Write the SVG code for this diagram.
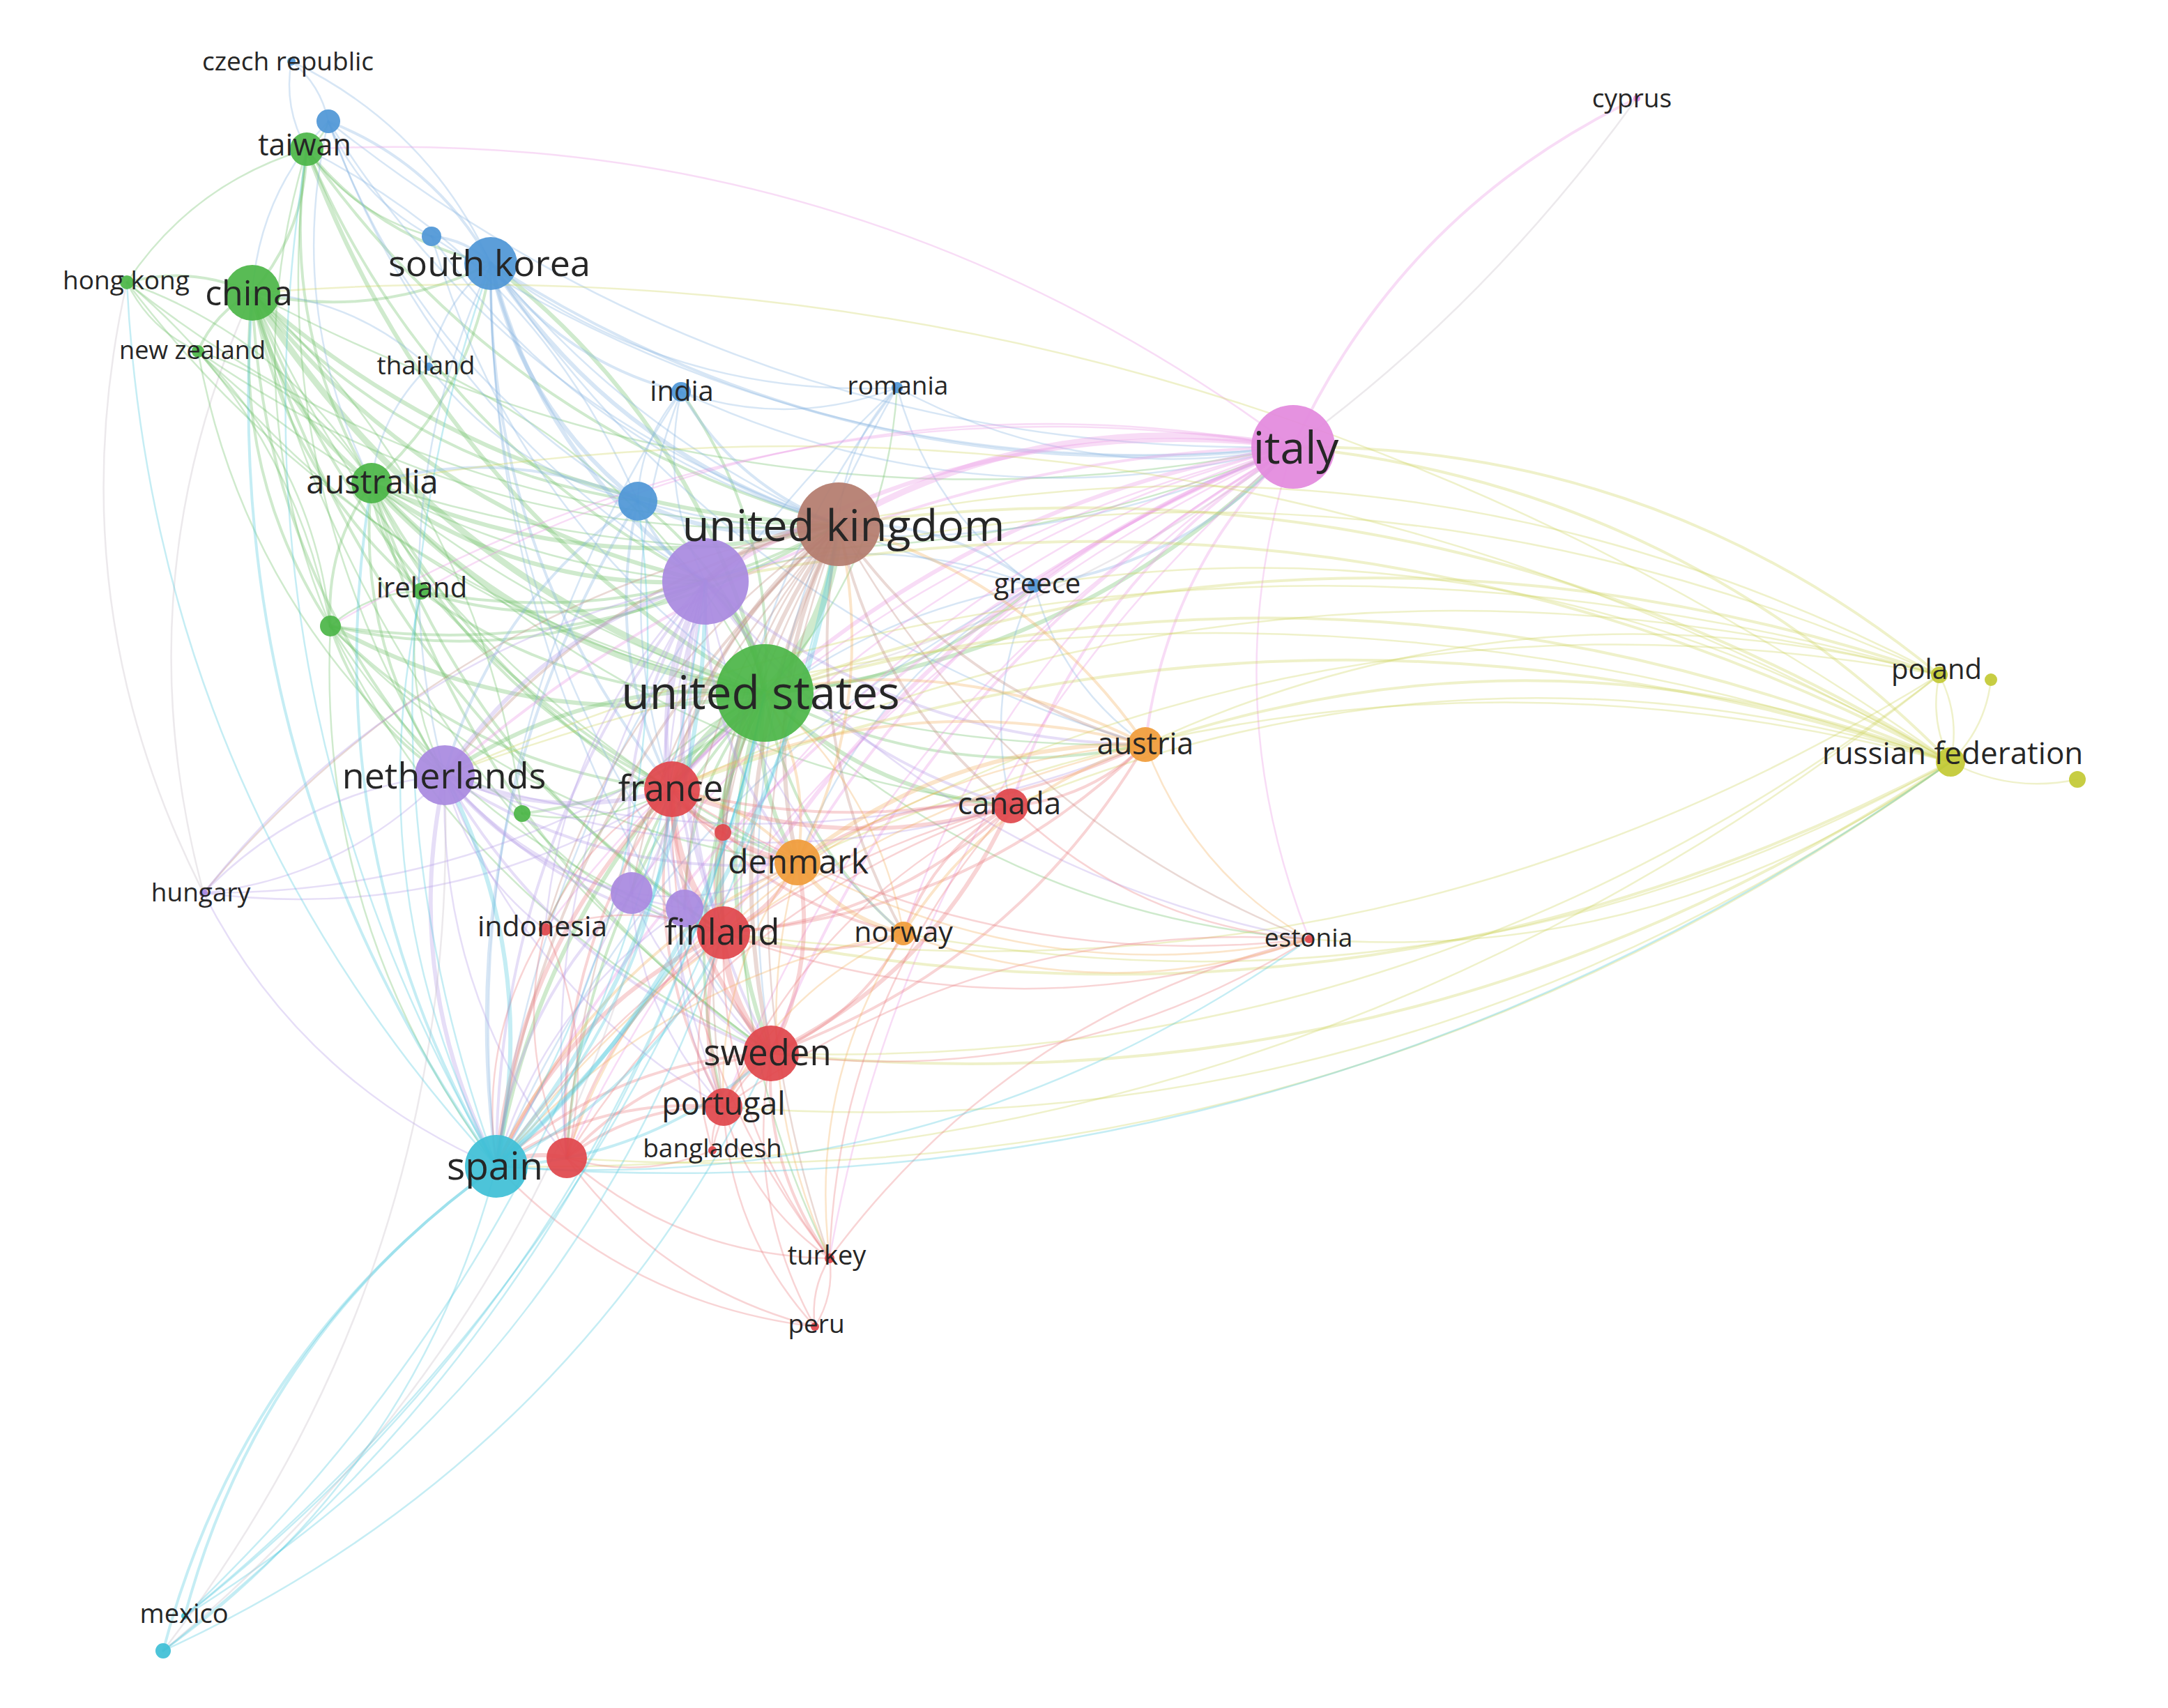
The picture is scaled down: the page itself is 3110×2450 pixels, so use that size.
<svg xmlns="http://www.w3.org/2000/svg" xmlns:xlink="http://www.w3.org/1999/xlink" width="3110" height="2450" viewBox="0 0 3110 2450">
<style>
#edges{stroke-opacity:.33;stroke-linecap:round}
.g{stroke:#6cc066}.b{stroke:#86b3e0}.k{stroke:#eb95e5}.y{stroke:#cfd45e}.n{stroke:#c08c80}.p{stroke:#b39ae6}.r{stroke:#ea7c7e}.o{stroke:#f3b05e}.c{stroke:#4fc8de}.x{stroke:#c6bcc6}
.w1{stroke-width:2.5}.w2{stroke-width:4}.w3{stroke-width:6}.w4{stroke-width:9}.w5{stroke-width:13}
text{font-family:"Open Sans","Noto Sans","DejaVu Sans",sans-serif;fill:#262626;text-anchor:middle}
.R{fill:#e0474c}.G{fill:#4cb648}.B{fill:#5097d6}.P{fill:#a98ae0}.N{fill:#b47c6e}.K{fill:#e38ade}.Y{fill:#c3c935}.O{fill:#f09c3a}.C{fill:#3fc0d6}
circle{fill-opacity:.93}
</style>
<defs>
<path id="u" d="M0 0Q.5 .18 1 0" fill="none" vector-effect="non-scaling-stroke"/>
</defs>
<rect width="3110" height="2450" fill="#ffffff"/>
<g id="edges">
<use href="#u" class="g w2" transform="matrix(78 -206 206 78 362 420)"/>
<use href="#u" class="g w2" transform="matrix(-180 -15 15 -180 362 420)"/>
<use href="#u" class="g w2" transform="matrix(-78 84 -84 -78 362 420)"/>
<use href="#u" class="g w3" transform="matrix(171 273 -273 171 362 420)"/>
<use href="#u" class="g w4" transform="matrix(735 574 -574 735 362 420)"/>
<use href="#u" class="g w3" transform="matrix(841 332 -332 841 362 420)"/>
<use href="#u" class="g w3" transform="matrix(650 414 -414 650 362 420)"/>
<use href="#u" class="g w2" transform="matrix(112 478 -478 112 362 420)"/>
<use href="#u" class="g w2" transform="matrix(242 428 -428 242 362 420)"/>
<use href="#u" class="g w2" transform="matrix(276 692 -692 276 362 420)"/>
<use href="#u" class="g w2" transform="matrix(602 712 -712 602 362 420)"/>
<use href="#u" class="g w2" transform="matrix(676 918 -918 676 362 420)"/>
<use href="#u" class="g w1" transform="matrix(744 1091 -1091 744 362 420)"/>
<use href="#u" class="g w2" transform="matrix(553 299 -299 553 362 420)"/>
<use href="#u" class="g w2" transform="matrix(342 -42 42 342 362 420)"/>
<use href="#u" class="g w1" transform="matrix(782 817 -817 782 362 420)"/>
<use href="#u" class="g w1" transform="matrix(1493 221 -221 1493 362 420)"/>
<use href="#u" class="x w1" transform="matrix(-70 861 -861 -70 362 420)"/>
<use href="#u" class="g w2" transform="matrix(93 479 -479 93 440 214)"/>
<use href="#u" class="g w3" transform="matrix(657 780 -780 657 440 214)"/>
<use href="#u" class="g w2" transform="matrix(264 164 -164 264 440 214)"/>
<use href="#u" class="g w1" transform="matrix(31 -40 40 31 440 214)"/>
<use href="#u" class="g w1" transform="matrix(179 125 -125 179 440 214)"/>
<use href="#u" class="g w2" transform="matrix(763 538 -538 763 440 214)"/>
<use href="#u" class="g w2" transform="matrix(572 620 -620 572 440 214)"/>
<use href="#u" class="g w1" transform="matrix(34 684 -684 34 440 214)"/>
<use href="#u" class="g w1" transform="matrix(198 898 -898 198 440 214)"/>
<use href="#u" class="g w1" transform="matrix(-258 191 -191 -258 440 214)"/>
<use href="#u" class="g w4" transform="matrix(564 301 -301 564 533 693)"/>
<use href="#u" class="g w3" transform="matrix(670 59 -59 670 533 693)"/>
<use href="#u" class="g w3" transform="matrix(479 141 -141 479 533 693)"/>
<use href="#u" class="g w2" transform="matrix(105 419 -419 105 533 693)"/>
<use href="#u" class="g w2" transform="matrix(-59 205 -205 -59 533 693)"/>
<use href="#u" class="g w2" transform="matrix(71 155 -155 71 533 693)"/>
<use href="#u" class="g w2" transform="matrix(431 439 -439 431 533 693)"/>
<use href="#u" class="g w2" transform="matrix(573 818 -818 573 533 693)"/>
<use href="#u" class="g w2" transform="matrix(505 645 -645 505 533 693)"/>
<use href="#u" class="g w2" transform="matrix(611 544 -544 611 533 693)"/>
<use href="#u" class="g w1" transform="matrix(-351 -288 288 -351 533 693)"/>
<use href="#u" class="g w1" transform="matrix(-249 -189 189 -249 533 693)"/>
<use href="#u" class="g w1" transform="matrix(1322 -52 52 1322 533 693)"/>
<use href="#u" class="g w1" transform="matrix(1110 375 -375 1110 533 693)"/>
<use href="#u" class="g w1" transform="matrix(917 463 -463 917 533 693)"/>
<use href="#u" class="g w2" transform="matrix(171 -315 315 171 533 693)"/>
<use href="#u" class="g w2" transform="matrix(493 146 -146 493 604 848)"/>
<use href="#u" class="g w2" transform="matrix(599 -96 96 599 604 848)"/>
<use href="#u" class="g w2" transform="matrix(408 -14 14 408 604 848)"/>
<use href="#u" class="g w1" transform="matrix(34 264 -264 34 604 848)"/>
<use href="#u" class="g w1" transform="matrix(-130 50 -50 -130 604 848)"/>
<use href="#u" class="g w3" transform="matrix(623 96 -96 623 474 898)"/>
<use href="#u" class="g w2" transform="matrix(164 214 -214 164 474 898)"/>
<use href="#u" class="g w2" transform="matrix(538 -64 64 538 474 898)"/>
<use href="#u" class="g w2" transform="matrix(729 -146 146 729 474 898)"/>
<use href="#u" class="g w2" transform="matrix(490 234 -234 490 474 898)"/>
<use href="#u" class="g w1" transform="matrix(670 339 -339 670 474 898)"/>
<use href="#u" class="g w1" transform="matrix(564 440 -440 564 474 898)"/>
<use href="#u" class="g w1" transform="matrix(632 613 -613 632 474 898)"/>
<use href="#u" class="g w1" transform="matrix(238 775 -775 238 474 898)"/>
<use href="#u" class="g w1" transform="matrix(-190 -394 394 -190 474 898)"/>
<use href="#u" class="g w1" transform="matrix(-292 -493 493 -292 474 898)"/>
<use href="#u" class="g w1" transform="matrix(915 589 -589 915 182 405)"/>
<use href="#u" class="g w1" transform="matrix(1021 347 -347 1021 182 405)"/>
<use href="#u" class="g w1" transform="matrix(102 99 -99 102 182 405)"/>
<use href="#u" class="x w1" transform="matrix(110 876 -876 110 182 405)"/>
<use href="#u" class="g w1" transform="matrix(813 490 -490 813 284 504)"/>
<use href="#u" class="g w1" transform="matrix(919 248 -248 919 284 504)"/>
<use href="#u" class="g w1" transform="matrix(728 330 -330 728 284 504)"/>
<use href="#u" class="g w1" transform="matrix(354 608 -608 354 284 504)"/>
<use href="#u" class="g w1" transform="matrix(-111 -55 55 -111 749 1167)"/>
<use href="#u" class="g w2" transform="matrix(348 -173 173 348 749 1167)"/>
<use href="#u" class="g w1" transform="matrix(215 -35 35 215 749 1167)"/>
<use href="#u" class="g w1" transform="matrix(289 171 -171 289 749 1167)"/>
<use href="#u" class="g w1" transform="matrix(-387 -747 747 -387 749 1167)"/>
<use href="#u" class="g w5" transform="matrix(106 -242 242 106 1097 994)"/>
<use href="#u" class="g w4" transform="matrix(-85 -160 160 -85 1097 994)"/>
<use href="#u" class="g w4" transform="matrix(-133 138 -138 -133 1097 994)"/>
<use href="#u" class="g w4" transform="matrix(-59 344 -344 -59 1097 994)"/>
<use href="#u" class="g w3" transform="matrix(9 517 -517 9 1097 994)"/>
<use href="#u" class="g w3" transform="matrix(47 243 -243 47 1097 994)"/>
<use href="#u" class="g w3" transform="matrix(758 -353 353 758 1097 994)"/>
<use href="#u" class="g w3" transform="matrix(353 162 -162 353 1097 994)"/>
<use href="#u" class="g w2" transform="matrix(546 74 -74 546 1097 994)"/>
<use href="#u" class="g w3" transform="matrix(-459 118 -118 -459 1097 994)"/>
<use href="#u" class="g w3" transform="matrix(-385 679 -679 -385 1097 994)"/>
<use href="#u" class="g w2" transform="matrix(-59 594 -594 -59 1097 994)"/>
<use href="#u" class="g w2" transform="matrix(-284 667 -667 -284 1097 994)"/>
<use href="#u" class="g w2" transform="matrix(199 345 -345 199 1097 994)"/>
<use href="#u" class="g w2" transform="matrix(387 -154 154 387 1097 994)"/>
<use href="#u" class="g w3" transform="matrix(-393 -616 616 -393 1097 994)"/>
<use href="#u" class="g w2" transform="matrix(-182 -275 275 -182 1097 994)"/>
<use href="#u" class="g w2" transform="matrix(-120 -432 432 -120 1097 994)"/>
<use href="#u" class="g w2" transform="matrix(-191 287 -287 -191 1097 994)"/>
<use href="#u" class="g w2" transform="matrix(-115 309 -309 -115 1097 994)"/>
<use href="#u" class="g w1" transform="matrix(-60 200 -200 -60 1097 994)"/>
<use href="#u" class="x w1" transform="matrix(1251 -853 853 1251 1097 994)"/>
<use href="#u" class="g w1" transform="matrix(781 353 -353 781 1097 994)"/>
<use href="#u" class="g w1" transform="matrix(93 811 -811 93 1097 994)"/>
<use href="#u" class="g w1" transform="matrix(-315 339 -339 -315 1097 994)"/>
<use href="#u" class="g w1" transform="matrix(190 -438 438 190 1097 994)"/>
<use href="#u" class="g w1" transform="matrix(-482 -468 468 -482 1097 994)"/>
<use href="#u" class="b w2" transform="matrix(-233 -204 204 -233 704 378)"/>
<use href="#u" class="b w2" transform="matrix(-85 -39 39 -85 704 378)"/>
<use href="#u" class="b w2" transform="matrix(273 184 -184 273 704 378)"/>
<use href="#u" class="b w1" transform="matrix(-89 148 -148 -89 704 378)"/>
<use href="#u" class="b w3" transform="matrix(211 341 -341 211 704 378)"/>
<use href="#u" class="b w3" transform="matrix(499 374 -374 499 704 378)"/>
<use href="#u" class="b w3" transform="matrix(308 456 -456 308 704 378)"/>
<use href="#u" class="b w2" transform="matrix(1151 263 -263 1151 704 378)"/>
<use href="#u" class="b w1" transform="matrix(780 462 -462 780 704 378)"/>
<use href="#u" class="b w2" transform="matrix(260 754 -754 260 704 378)"/>
<use href="#u" class="b w1" transform="matrix(334 960 -960 334 704 378)"/>
<use href="#u" class="b w1" transform="matrix(-66 734 -734 -66 704 378)"/>
<use href="#u" class="b w1" transform="matrix(583 178 -178 583 704 378)"/>
<use href="#u" class="b w1" transform="matrix(939 690 -690 939 704 378)"/>
<use href="#u" class="b w1" transform="matrix(402 1133 -1133 402 704 378)"/>
<use href="#u" class="b w1" transform="matrix(-286 -290 290 -286 704 378)"/>
<use href="#u" class="b w1" transform="matrix(-53 -86 86 -53 471 174)"/>
<use href="#u" class="b w1" transform="matrix(148 165 -165 148 471 174)"/>
<use href="#u" class="b w1" transform="matrix(-109 246 -246 -109 471 174)"/>
<use href="#u" class="b w1" transform="matrix(732 578 -578 732 471 174)"/>
<use href="#u" class="b w1" transform="matrix(541 660 -660 541 471 174)"/>
<use href="#u" class="b w1" transform="matrix(444 545 -545 444 471 174)"/>
<use href="#u" class="b w1" transform="matrix(1384 467 -467 1384 471 174)"/>
<use href="#u" class="b w1" transform="matrix(62 519 -519 62 471 174)"/>
<use href="#u" class="b w1" transform="matrix(22 126 -126 22 418 88)"/>
<use href="#u" class="b w1" transform="matrix(584 413 -413 584 619 339)"/>
<use href="#u" class="b w1" transform="matrix(1236 302 -302 1236 619 339)"/>
<use href="#u" class="b w1" transform="matrix(478 655 -655 478 619 339)"/>
<use href="#u" class="b w1" transform="matrix(-62 157 -157 -62 977 562)"/>
<use href="#u" class="b w2" transform="matrix(226 190 -190 226 977 562)"/>
<use href="#u" class="b w1" transform="matrix(35 272 -272 35 977 562)"/>
<use href="#u" class="b w1" transform="matrix(-13 570 -570 -13 977 562)"/>
<use href="#u" class="b w1" transform="matrix(878 79 -79 878 977 562)"/>
<use href="#u" class="b w1" transform="matrix(310 -6 6 310 977 562)"/>
<use href="#u" class="b w1" transform="matrix(-265 1111 -1111 -265 977 562)"/>
<use href="#u" class="b w1" transform="matrix(-84 196 -196 -84 1287 556)"/>
<use href="#u" class="b w1" transform="matrix(568 85 -85 568 1287 556)"/>
<use href="#u" class="b w1" transform="matrix(197 284 -284 197 1287 556)"/>
<use href="#u" class="b w1" transform="matrix(-181 955 -955 -181 1287 556)"/>
<use href="#u" class="b w1" transform="matrix(-249 782 -782 -249 1287 556)"/>
<use href="#u" class="b w1" transform="matrix(-575 1117 -1117 -575 1287 556)"/>
<use href="#u" class="b w3" transform="matrix(288 33 -33 288 915 719)"/>
<use href="#u" class="b w2" transform="matrix(97 115 -115 97 915 719)"/>
<use href="#u" class="b w2" transform="matrix(-277 393 -393 -277 915 719)"/>
<use href="#u" class="b w2" transform="matrix(49 413 -413 49 915 719)"/>
<use href="#u" class="b w2" transform="matrix(-203 954 -954 -203 915 719)"/>
<use href="#u" class="b w2" transform="matrix(-382 -26 26 -382 915 719)"/>
<use href="#u" class="b w1" transform="matrix(-475 -505 505 -475 915 719)"/>
<use href="#u" class="b w1" transform="matrix(940 -78 78 940 915 719)"/>
<use href="#u" class="b w2" transform="matrix(-281 -88 88 -281 1484 840)"/>
<use href="#u" class="b w2" transform="matrix(371 -199 199 371 1484 840)"/>
<use href="#u" class="b w1" transform="matrix(-472 -6 6 -472 1484 840)"/>
<use href="#u" class="b w1" transform="matrix(159 228 -228 159 1484 840)"/>
<use href="#u" class="b w1" transform="matrix(-34 316 -316 -34 1484 840)"/>
<use href="#u" class="b w1" transform="matrix(-520 292 -292 -520 1484 840)"/>
<use href="#u" class="b w1" transform="matrix(-772 833 -833 -772 1484 840)"/>
<use href="#u" class="b w1" transform="matrix(-340 397 -397 -340 1484 840)"/>
<use href="#u" class="b w1" transform="matrix(300 193 -193 300 615 526)"/>
<use href="#u" class="b w1" transform="matrix(-253 -106 106 -253 615 526)"/>
<use href="#u" class="b w1" transform="matrix(-82 167 -167 -82 615 526)"/>
<use href="#u" class="k w2" transform="matrix(-493 500 -500 -493 2348 141)"/>
<use href="#u" class="k w4" transform="matrix(-652 111 -111 -652 1855 641)"/>
<use href="#u" class="k w3" transform="matrix(-843 193 -193 -843 1855 641)"/>
<use href="#u" class="k w3" transform="matrix(-891 491 -491 -891 1855 641)"/>
<use href="#u" class="k w2" transform="matrix(-1143 1032 -1032 -1143 1855 641)"/>
<use href="#u" class="k w3" transform="matrix(-817 697 -697 -817 1855 641)"/>
<use href="#u" class="k w2" transform="matrix(-749 870 -870 -749 1855 641)"/>
<use href="#u" class="k w2" transform="matrix(-711 596 -596 -711 1855 641)"/>
<use href="#u" class="k w2" transform="matrix(-405 515 -515 -405 1855 641)"/>
<use href="#u" class="k w2" transform="matrix(-1217 471 -471 -1217 1855 641)"/>
<use href="#u" class="k w2" transform="matrix(-212 427 -427 -212 1855 641)"/>
<use href="#u" class="k w1" transform="matrix(-817 947 -947 -817 1855 641)"/>
<use href="#u" class="k w1" transform="matrix(-1042 1020 -1020 -1042 1855 641)"/>
<use href="#u" class="k w1" transform="matrix(-559 698 -698 -559 1855 641)"/>
<use href="#u" class="k w1" transform="matrix(23 706 -706 23 1855 641)"/>
<use href="#u" class="k w1" transform="matrix(-665 1164 -1164 -665 1855 641)"/>
<use href="#u" class="k w1" transform="matrix(-949 640 -640 -949 1855 641)"/>
<use href="#u" class="k w1" transform="matrix(-873 662 -662 -873 1855 641)"/>
<use href="#u" class="k w1" transform="matrix(-1073 692 -692 -1073 1855 641)"/>
<use href="#u" class="k w1" transform="matrix(-1251 207 -207 -1251 1855 641)"/>
<use href="#u" class="k w1" transform="matrix(-1381 257 -257 -1381 1855 641)"/>
<use href="#u" class="k w1" transform="matrix(-1415 -427 427 -1415 1855 641)"/>
<use href="#u" class="y w2" transform="matrix(-943 -452 452 -943 2798 1093)"/>
<use href="#u" class="y w1" transform="matrix(-16 -125 125 -16 2798 1093)"/>
<use href="#u" class="y w1" transform="matrix(58 -118 118 58 2798 1093)"/>
<use href="#u" class="y w1" transform="matrix(182 25 -25 182 2798 1093)"/>
<use href="#u" class="y w2" transform="matrix(-1701 -99 99 -1701 2798 1093)"/>
<use href="#u" class="y w2" transform="matrix(-1595 -341 341 -1595 2798 1093)"/>
<use href="#u" class="y w2" transform="matrix(-1786 -259 259 -1786 2798 1093)"/>
<use href="#u" class="y w2" transform="matrix(-1834 39 -39 -1834 2798 1093)"/>
<use href="#u" class="y w1" transform="matrix(-1654 144 -144 -1654 2798 1093)"/>
<use href="#u" class="y w2" transform="matrix(-1155 -25 25 -1155 2798 1093)"/>
<use href="#u" class="y w1" transform="matrix(-1348 63 -63 -1348 2798 1093)"/>
<use href="#u" class="y w1" transform="matrix(-2160 19 -19 -2160 2798 1093)"/>
<use href="#u" class="y w1" transform="matrix(-2265 -400 400 -2265 2798 1093)"/>
<use href="#u" class="y w1" transform="matrix(-1314 -253 253 -1314 2798 1093)"/>
<use href="#u" class="y w1" transform="matrix(-2436 -673 673 -2436 2798 1093)"/>
<use href="#u" class="y w2" transform="matrix(-927 -327 327 -927 2782 968)"/>
<use href="#u" class="y w1" transform="matrix(16 125 -125 16 2782 968)"/>
<use href="#u" class="y w2" transform="matrix(-1685 26 -26 -1685 2782 968)"/>
<use href="#u" class="y w1" transform="matrix(-1579 -216 216 -1579 2782 968)"/>
<use href="#u" class="y w1" transform="matrix(-1770 -134 134 -1770 2782 968)"/>
<use href="#u" class="y w1" transform="matrix(-1818 164 -164 -1818 2782 968)"/>
<use href="#u" class="y w1" transform="matrix(-1139 100 -100 -1139 2782 968)"/>
<use href="#u" class="y w1" transform="matrix(-2144 144 -144 -2144 2782 968)"/>
<use href="#u" class="y w1" transform="matrix(-1638 269 -269 -1638 2782 968)"/>
<use href="#u" class="y w2" transform="matrix(1692 -418 418 1692 1106 1511)"/>
<use href="#u" class="y w2" transform="matrix(1760 -245 245 1760 1038 1338)"/>
<use href="#u" class="y w1" transform="matrix(1502 -246 246 1502 1296 1339)"/>
<use href="#u" class="y w1" transform="matrix(920 -254 254 920 1878 1347)"/>
<use href="#u" class="y w1" transform="matrix(1760 -495 495 1760 1038 1588)"/>
<use href="#u" class="y w1" transform="matrix(1985 -568 568 1985 813 1661)"/>
<use href="#u" class="y w1" transform="matrix(1744 -370 370 1744 1038 1338)"/>
<use href="#u" class="y w1" transform="matrix(2070 -705 705 2070 712 1673)"/>
<use href="#u" class="y w1" transform="matrix(1676 -543 543 1676 1106 1511)"/>
<use href="#u" class="n w4" transform="matrix(-191 82 -82 -191 1203 752)"/>
<use href="#u" class="n w3" transform="matrix(-239 380 -380 -239 1203 752)"/>
<use href="#u" class="n w3" transform="matrix(-165 586 -586 -165 1203 752)"/>
<use href="#u" class="n w3" transform="matrix(-97 759 -759 -97 1203 752)"/>
<use href="#u" class="n w3" transform="matrix(-59 485 -485 -59 1203 752)"/>
<use href="#u" class="n w2" transform="matrix(-491 921 -921 -491 1203 752)"/>
<use href="#u" class="n w2" transform="matrix(-565 360 -360 -565 1203 752)"/>
<use href="#u" class="n w2" transform="matrix(440 316 -316 440 1203 752)"/>
<use href="#u" class="n w2" transform="matrix(247 404 -404 247 1203 752)"/>
<use href="#u" class="n w2" transform="matrix(93 587 -587 93 1203 752)"/>
<use href="#u" class="n w1" transform="matrix(675 595 -595 675 1203 752)"/>
<use href="#u" class="n w1" transform="matrix(-165 836 -836 -165 1203 752)"/>
<use href="#u" class="n w1" transform="matrix(-390 909 -909 -390 1203 752)"/>
<use href="#u" class="n w1" transform="matrix(-13 1053 -1053 -13 1203 752)"/>
<use href="#u" class="n w1" transform="matrix(-297 529 -529 -297 1203 752)"/>
<use href="#u" class="n w1" transform="matrix(-221 551 -551 -221 1203 752)"/>
<use href="#u" class="n w1" transform="matrix(-421 581 -581 -421 1203 752)"/>
<use href="#u" class="n w1" transform="matrix(-911 529 -529 -911 1203 752)"/>
<use href="#u" class="n w1" transform="matrix(-166 442 -442 -166 1203 752)"/>
<use href="#u" class="p w3" transform="matrix(-374 278 -278 -374 1012 834)"/>
<use href="#u" class="p w3" transform="matrix(-48 298 -298 -48 1012 834)"/>
<use href="#u" class="p w3" transform="matrix(26 504 -504 26 1012 834)"/>
<use href="#u" class="p w2" transform="matrix(94 677 -677 94 1012 834)"/>
<use href="#u" class="p w2" transform="matrix(132 403 -403 132 1012 834)"/>
<use href="#u" class="p w2" transform="matrix(-300 839 -839 -300 1012 834)"/>
<use href="#u" class="p w2" transform="matrix(-106 447 -447 -106 1012 834)"/>
<use href="#u" class="p w2" transform="matrix(-30 469 -469 -30 1012 834)"/>
<use href="#u" class="p w2" transform="matrix(631 234 -234 631 1012 834)"/>
<use href="#u" class="p w2" transform="matrix(438 322 -322 438 1012 834)"/>
<use href="#u" class="p w1" transform="matrix(284 505 -505 284 1012 834)"/>
<use href="#u" class="p w1" transform="matrix(-230 499 -499 -230 1012 834)"/>
<use href="#u" class="p w1" transform="matrix(-720 447 -447 -720 1012 834)"/>
<use href="#u" class="p w1" transform="matrix(26 754 -754 26 1012 834)"/>
<use href="#u" class="p w1" transform="matrix(-199 827 -827 -199 1012 834)"/>
<use href="#u" class="p w1" transform="matrix(866 513 -513 866 1012 834)"/>
<use href="#u" class="p w1" transform="matrix(-346 169 -169 -346 638 1112)"/>
<use href="#u" class="p w3" transform="matrix(326 20 -20 326 638 1112)"/>
<use href="#u" class="p w2" transform="matrix(400 226 -226 400 638 1112)"/>
<use href="#u" class="p w2" transform="matrix(468 399 -399 468 638 1112)"/>
<use href="#u" class="p w2" transform="matrix(506 125 -125 506 638 1112)"/>
<use href="#u" class="p w3" transform="matrix(74 561 -561 74 638 1112)"/>
<use href="#u" class="p w2" transform="matrix(268 169 -169 268 638 1112)"/>
<use href="#u" class="p w1" transform="matrix(344 191 -191 344 638 1112)"/>
<use href="#u" class="p w1" transform="matrix(175 549 -549 175 638 1112)"/>
<use href="#u" class="p w1" transform="matrix(144 221 -221 144 638 1112)"/>
<use href="#u" class="p w1" transform="matrix(812 44 -44 812 638 1112)"/>
<use href="#u" class="p w1" transform="matrix(1005 -44 44 1005 638 1112)"/>
<use href="#u" class="p w1" transform="matrix(400 476 -476 400 638 1112)"/>
<use href="#u" class="p w1" transform="matrix(346 -169 169 346 292 1281)"/>
<use href="#u" class="p w1" transform="matrix(420 392 -392 420 292 1281)"/>
<use href="#u" class="p w1" transform="matrix(805 -287 287 805 292 1281)"/>
<use href="#u" class="p w1" transform="matrix(672 -149 149 672 292 1281)"/>
<use href="#u" class="p w2" transform="matrix(58 -149 149 58 906 1281)"/>
<use href="#u" class="p w2" transform="matrix(132 57 -57 132 906 1281)"/>
<use href="#u" class="p w1" transform="matrix(200 230 -230 200 906 1281)"/>
<use href="#u" class="p w2" transform="matrix(-194 392 -392 -194 906 1281)"/>
<use href="#u" class="p w1" transform="matrix(-93 380 -380 -93 906 1281)"/>
<use href="#u" class="p w1" transform="matrix(132 307 -307 132 906 1281)"/>
<use href="#u" class="p w1" transform="matrix(238 -44 44 238 906 1281)"/>
<use href="#u" class="p w2" transform="matrix(-18 -171 171 -18 982 1303)"/>
<use href="#u" class="p w1" transform="matrix(56 35 -35 56 982 1303)"/>
<use href="#u" class="p w1" transform="matrix(124 208 -208 124 982 1303)"/>
<use href="#u" class="p w1" transform="matrix(-270 370 -370 -270 982 1303)"/>
<use href="#u" class="p w1" transform="matrix(162 -66 66 162 982 1303)"/>
<use href="#u" class="p w1" transform="matrix(56 285 -285 56 982 1303)"/>
<use href="#u" class="r w4" transform="matrix(74 206 -206 74 964 1132)"/>
<use href="#u" class="r w3" transform="matrix(142 379 -379 142 964 1132)"/>
<use href="#u" class="r w3" transform="matrix(180 105 -105 180 964 1132)"/>
<use href="#u" class="r w3" transform="matrix(486 24 -24 486 964 1132)"/>
<use href="#u" class="r w3" transform="matrix(-252 541 -541 -252 964 1132)"/>
<use href="#u" class="r w2" transform="matrix(74 456 -456 74 964 1132)"/>
<use href="#u" class="r w2" transform="matrix(-151 529 -529 -151 964 1132)"/>
<use href="#u" class="r w2" transform="matrix(679 -64 64 679 964 1132)"/>
<use href="#u" class="r w2" transform="matrix(332 207 -207 332 964 1132)"/>
<use href="#u" class="r w1" transform="matrix(73 62 -62 73 964 1132)"/>
<use href="#u" class="r w1" transform="matrix(-182 201 -201 -182 964 1132)"/>
<use href="#u" class="r w1" transform="matrix(226 673 -673 226 964 1132)"/>
<use href="#u" class="r w1" transform="matrix(914 215 -215 914 964 1132)"/>
<use href="#u" class="r w4" transform="matrix(68 173 -173 68 1038 1338)"/>
<use href="#u" class="r w3" transform="matrix(0 250 -250 0 1038 1338)"/>
<use href="#u" class="r w3" transform="matrix(106 -101 101 106 1038 1338)"/>
<use href="#u" class="r w2" transform="matrix(258 1 -1 258 1038 1338)"/>
<use href="#u" class="r w2" transform="matrix(412 -182 182 412 1038 1338)"/>
<use href="#u" class="r w3" transform="matrix(-326 335 -335 -326 1038 1338)"/>
<use href="#u" class="r w2" transform="matrix(-225 323 -323 -225 1038 1338)"/>
<use href="#u" class="r w1" transform="matrix(152 467 -467 152 1038 1338)"/>
<use href="#u" class="r w1" transform="matrix(840 9 -9 840 1038 1338)"/>
<use href="#u" class="r w2" transform="matrix(605 -270 270 605 1038 1338)"/>
<use href="#u" class="r w1" transform="matrix(-256 -5 5 -256 1038 1338)"/>
<use href="#u" class="r w1" transform="matrix(-16 312 -312 -16 1038 1338)"/>
<use href="#u" class="r w3" transform="matrix(-68 77 -77 -68 1106 1511)"/>
<use href="#u" class="r w3" transform="matrix(38 -274 274 38 1106 1511)"/>
<use href="#u" class="r w2" transform="matrix(190 -172 172 190 1106 1511)"/>
<use href="#u" class="r w3" transform="matrix(344 -355 355 344 1106 1511)"/>
<use href="#u" class="r w2" transform="matrix(-394 162 -162 -394 1106 1511)"/>
<use href="#u" class="r w2" transform="matrix(-293 150 -150 -293 1106 1511)"/>
<use href="#u" class="r w2" transform="matrix(84 294 -294 84 1106 1511)"/>
<use href="#u" class="r w1" transform="matrix(63 392 -392 63 1106 1511)"/>
<use href="#u" class="r w2" transform="matrix(537 -443 443 537 1106 1511)"/>
<use href="#u" class="r w1" transform="matrix(772 -164 164 772 1106 1511)"/>
<use href="#u" class="r w1" transform="matrix(-84 139 -139 -84 1106 1511)"/>
<use href="#u" class="r w2" transform="matrix(-306 81 -81 -306 1450 1156)"/>
<use href="#u" class="r w2" transform="matrix(193 -88 88 193 1450 1156)"/>
<use href="#u" class="r w2" transform="matrix(-154 183 -183 -154 1450 1156)"/>
<use href="#u" class="r w1" transform="matrix(-738 517 -517 -738 1450 1156)"/>
<use href="#u" class="r w1" transform="matrix(-412 432 -432 -412 1450 1156)"/>
<use href="#u" class="r w1" transform="matrix(428 191 -191 428 1450 1156)"/>
<use href="#u" class="r w1" transform="matrix(-260 649 -649 -260 1450 1156)"/>
<use href="#u" class="r w1" transform="matrix(-637 505 -505 -637 1450 1156)"/>
<use href="#u" class="r w2" transform="matrix(-326 85 -85 -326 1038 1588)"/>
<use href="#u" class="r w2" transform="matrix(-225 73 -73 -225 1038 1588)"/>
<use href="#u" class="r w1" transform="matrix(-16 62 -62 -16 1038 1588)"/>
<use href="#u" class="r w1" transform="matrix(152 217 -217 152 1038 1588)"/>
<use href="#u" class="r w1" transform="matrix(131 315 -315 131 1038 1588)"/>
<use href="#u" class="r w3" transform="matrix(-101 12 -12 -101 813 1661)"/>
<use href="#u" class="r w1" transform="matrix(209 -11 11 209 813 1661)"/>
<use href="#u" class="r w1" transform="matrix(377 144 -144 377 813 1661)"/>
<use href="#u" class="r w1" transform="matrix(356 242 -242 356 813 1661)"/>
<use href="#u" class="r w1" transform="matrix(-31 -328 328 -31 813 1661)"/>
<use href="#u" class="r w1" transform="matrix(-21 98 -98 -21 1190 1805)"/>
<use href="#u" class="r w1" transform="matrix(21 -98 98 21 1169 1903)"/>
<use href="#u" class="r w1" transform="matrix(457 230 -230 457 712 1673)"/>
<use href="#u" class="r w1" transform="matrix(-688 458 -458 -688 1878 1347)"/>
<use href="#u" class="r w1" transform="matrix(-840 241 -241 -840 1878 1347)"/>
<use href="#u" class="r w1" transform="matrix(1 144 -144 1 1037 1194)"/>
<use href="#u" class="r w1" transform="matrix(107 43 -43 107 1037 1194)"/>
<use href="#u" class="r w1" transform="matrix(-70 340 -340 -70 782 1333)"/>
<use href="#u" class="r w1" transform="matrix(31 328 -328 31 782 1333)"/>
<use href="#u" class="o w3" transform="matrix(-499 169 -169 -499 1643 1068)"/>
<use href="#u" class="o w2" transform="matrix(-347 271 -271 -347 1643 1068)"/>
<use href="#u" class="o w1" transform="matrix(235 279 -279 235 1643 1068)"/>
<use href="#u" class="o w1" transform="matrix(-931 605 -605 -931 1643 1068)"/>
<use href="#u" class="o w2" transform="matrix(-546 -74 74 -546 1643 1068)"/>
<use href="#u" class="o w2" transform="matrix(-440 -316 316 -440 1643 1068)"/>
<use href="#u" class="o w2" transform="matrix(-679 64 -64 -679 1643 1068)"/>
<use href="#u" class="o w1" transform="matrix(-605 270 -270 -605 1643 1068)"/>
<use href="#u" class="o w3" transform="matrix(152 102 -102 152 1144 1237)"/>
<use href="#u" class="o w2" transform="matrix(-432 436 -436 -432 1144 1237)"/>
<use href="#u" class="o w1" transform="matrix(-106 351 -351 -106 1144 1237)"/>
<use href="#u" class="o w1" transform="matrix(-331 424 -424 -331 1144 1237)"/>
<use href="#u" class="o w1" transform="matrix(46 568 -568 46 1144 1237)"/>
<use href="#u" class="o w1" transform="matrix(734 110 -110 734 1144 1237)"/>
<use href="#u" class="o w2" transform="matrix(-47 -243 243 -47 1144 1237)"/>
<use href="#u" class="o w2" transform="matrix(59 -485 485 59 1144 1237)"/>
<use href="#u" class="o w2" transform="matrix(-180 -105 105 -180 1144 1237)"/>
<use href="#u" class="o w1" transform="matrix(582 8 -8 582 1296 1339)"/>
<use href="#u" class="o w1" transform="matrix(-584 334 -334 -584 1296 1339)"/>
<use href="#u" class="o w1" transform="matrix(-258 249 -249 -258 1296 1339)"/>
<use href="#u" class="o w1" transform="matrix(-106 466 -466 -106 1296 1339)"/>
<use href="#u" class="o w1" transform="matrix(-199 -345 345 -199 1296 1339)"/>
<use href="#u" class="c w2" transform="matrix(-447 645 -645 -447 712 1673)"/>
<use href="#u" class="c w2" transform="matrix(-478 695 -695 -478 712 1673)"/>
<use href="#u" class="c w1" transform="matrix(478 -695 695 478 234 2368)"/>
<use href="#u" class="c w1" transform="matrix(832 -1324 1324 832 265 2318)"/>
<use href="#u" class="c w1" transform="matrix(773 -980 980 773 265 2318)"/>
<use href="#u" class="c w1" transform="matrix(938 -1566 1566 938 265 2318)"/>
<use href="#u" class="c w1" transform="matrix(872 -857 857 872 234 2368)"/>
<use href="#u" class="x w1" transform="matrix(730 -1236 1236 730 234 2368)"/>
<use href="#u" class="c w1" transform="matrix(863 -1374 1374 863 234 2368)"/>
<use href="#u" class="x w1" transform="matrix(404 -1256 1256 404 234 2368)"/>
<use href="#u" class="c w1" transform="matrix(747 -1484 1484 747 265 2318)"/>
<use href="#u" class="c w3" transform="matrix(385 -679 679 385 712 1673)"/>
<use href="#u" class="c w3" transform="matrix(491 -921 921 491 712 1673)"/>
<use href="#u" class="c w3" transform="matrix(300 -839 839 300 712 1673)"/>
<use href="#u" class="c w3" transform="matrix(-74 -561 561 -74 712 1673)"/>
<use href="#u" class="c w2" transform="matrix(252 -541 541 252 712 1673)"/>
<use href="#u" class="c w2" transform="matrix(326 -335 335 326 712 1673)"/>
<use href="#u" class="c w2" transform="matrix(394 -162 162 394 712 1673)"/>
<use href="#u" class="c w2" transform="matrix(350 1253 -1253 350 362 420)"/>
<use href="#u" class="c w2" transform="matrix(179 980 -980 179 533 693)"/>
<use href="#u" class="c w1" transform="matrix(272 1459 -1459 272 440 214)"/>
<use href="#u" class="c w1" transform="matrix(8 1295 -1295 8 704 378)"/>
<use href="#u" class="c w1" transform="matrix(530 1268 -1268 530 182 405)"/>
<use href="#u" class="c w1" transform="matrix(1166 -326 326 1166 712 1673)"/>
<use href="#u" class="c w1" transform="matrix(2086 -580 580 2086 712 1673)"/>
<use href="#u" class="c w1" transform="matrix(203 -954 954 203 712 1673)"/>
<use href="#u" class="c w1" transform="matrix(108 825 -825 108 604 848)"/>
</g>
<g id="nodes">
<g id="node-u1"><circle class="B" cx="471" cy="174" r="17"/></g>
<g id="node-u2"><circle class="B" cx="619" cy="339" r="14"/></g>
<g id="node-u3"><circle class="B" cx="915" cy="719" r="28"/></g>
<g id="node-u4"><circle class="P" cx="1012" cy="834" r="62"/></g>
<g id="node-u5"><circle class="G" cx="474" cy="898" r="15"/></g>
<g id="node-u6"><circle class="G" cx="749" cy="1167" r="12"/></g>
<g id="node-u7"><circle class="R" cx="1037" cy="1194" r="12"/></g>
<g id="node-u8"><circle class="P" cx="906" cy="1281" r="30"/></g>
<g id="node-u9"><circle class="P" cx="982" cy="1303" r="27"/></g>
<g id="node-u10"><circle class="R" cx="813" cy="1661" r="29"/></g>
<g id="node-u11"><circle class="Y" cx="2856" cy="975" r="9"/></g>
<g id="node-u12"><circle class="Y" cx="2980" cy="1118" r="12"/></g>
<g id="node-u13"><circle class="C" cx="234" cy="2368" r="11"/></g>
<g id="node-czech-republic"><circle class="B" cx="418" cy="88" r="6"/><text x="413" y="101" font-size="37">czech republic</text></g>
<g id="node-taiwan"><circle class="G" cx="440" cy="214" r="24"/><text x="437" y="223" font-size="43">taiwan</text></g>
<g id="node-south-korea"><circle class="B" cx="704" cy="378" r="38"/><text x="702" y="396" font-size="52">south korea</text></g>
<g id="node-hong-kong"><circle class="G" cx="182" cy="405" r="10"/><text x="181" y="415" font-size="37">hong kong</text></g>
<g id="node-china"><circle class="G" cx="362" cy="420" r="40"/><text x="357" y="438" font-size="50">china</text></g>
<g id="node-new-zealand"><circle class="G" cx="284" cy="504" r="9"/><text x="276" y="515" font-size="36">new zealand</text></g>
<g id="node-thailand"><circle class="B" cx="615" cy="526" r="6"/><text x="611" y="537" font-size="37">thailand</text></g>
<g id="node-india"><circle class="B" cx="977" cy="562" r="14"/><text x="978" y="575" font-size="40">india</text></g>
<g id="node-romania"><circle class="B" cx="1287" cy="556" r="8"/><text x="1288" y="566" font-size="37">romania</text></g>
<g id="node-cyprus"><circle class="K" cx="2348" cy="141" r="5"/><text x="2341" y="154" font-size="37">cyprus</text></g>
<g id="node-australia"><circle class="G" cx="533" cy="693" r="29"/><text x="534" y="708" font-size="47">australia</text></g>
<g id="node-ireland"><circle class="G" cx="604" cy="848" r="12"/><text x="605" y="857" font-size="40">ireland</text></g>
<g id="node-greece"><circle class="B" cx="1484" cy="840" r="10"/><text x="1488" y="851" font-size="40">greece</text></g>
<g id="node-italy"><circle class="K" cx="1855" cy="641" r="60"/><text x="1859" y="665" font-size="64">italy</text></g>
<g id="node-united-kingdom"><circle class="N" cx="1203" cy="752" r="60"/><text x="1210" y="776" font-size="63">united kingdom</text></g>
<g id="node-united-states"><circle class="G" cx="1097" cy="994" r="70"/><text x="1091" y="1017" font-size="66">united states</text></g>
<g id="node-poland"><circle class="Y" cx="2782" cy="968" r="12"/><text x="2778" y="974" font-size="40">poland</text></g>
<g id="node-russian-federation"><circle class="Y" cx="2798" cy="1093" r="21"/><text x="2801" y="1096" font-size="44">russian federation</text></g>
<g id="node-austria"><circle class="O" cx="1643" cy="1068" r="25"/><text x="1643" y="1082" font-size="43">austria</text></g>
<g id="node-netherlands"><circle class="P" cx="638" cy="1112" r="43"/><text x="637" y="1131" font-size="52">netherlands</text></g>
<g id="node-france"><circle class="R" cx="964" cy="1132" r="40"/><text x="962" y="1149" font-size="51">france</text></g>
<g id="node-canada"><circle class="R" cx="1450" cy="1156" r="25"/><text x="1448" y="1168" font-size="44">canada</text></g>
<g id="node-denmark"><circle class="O" cx="1144" cy="1237" r="33"/><text x="1145" y="1253" font-size="48">denmark</text></g>
<g id="node-hungary"><circle class="P" cx="292" cy="1281" r="6"/><text x="288" y="1293" font-size="37">hungary</text></g>
<g id="node-indonesia"><circle class="R" cx="782" cy="1333" r="9"/><text x="778" y="1343" font-size="41">indonesia</text></g>
<g id="node-finland"><circle class="R" cx="1038" cy="1338" r="38"/><text x="1036" y="1355" font-size="51">finland</text></g>
<g id="node-norway"><circle class="O" cx="1296" cy="1339" r="17"/><text x="1296" y="1351" font-size="41">norway</text></g>
<g id="node-estonia"><circle class="R" cx="1878" cy="1347" r="6"/><text x="1877" y="1358" font-size="37">estonia</text></g>
<g id="node-sweden"><circle class="R" cx="1106" cy="1511" r="40"/><text x="1101" y="1528" font-size="51">sweden</text></g>
<g id="node-portugal"><circle class="R" cx="1038" cy="1588" r="27"/><text x="1038" y="1599" font-size="45">portugal</text></g>
<g id="node-bangladesh"><circle class="R" cx="1022" cy="1650" r="6"/><text x="1022" y="1660" font-size="37">bangladesh</text></g>
<g id="node-spain"><circle class="C" cx="712" cy="1673" r="45"/><text x="710" y="1692" font-size="55">spain</text></g>
<g id="node-turkey"><circle class="R" cx="1190" cy="1805" r="7"/><text x="1186" y="1814" font-size="38">turkey</text></g>
<g id="node-peru"><circle class="R" cx="1169" cy="1903" r="6"/><text x="1171" y="1912" font-size="37">peru</text></g>
<g id="node-mexico"><circle class="C" cx="265" cy="2318" r="5"/><text x="264" y="2328" font-size="38">mexico</text></g>
</g>
</svg>
